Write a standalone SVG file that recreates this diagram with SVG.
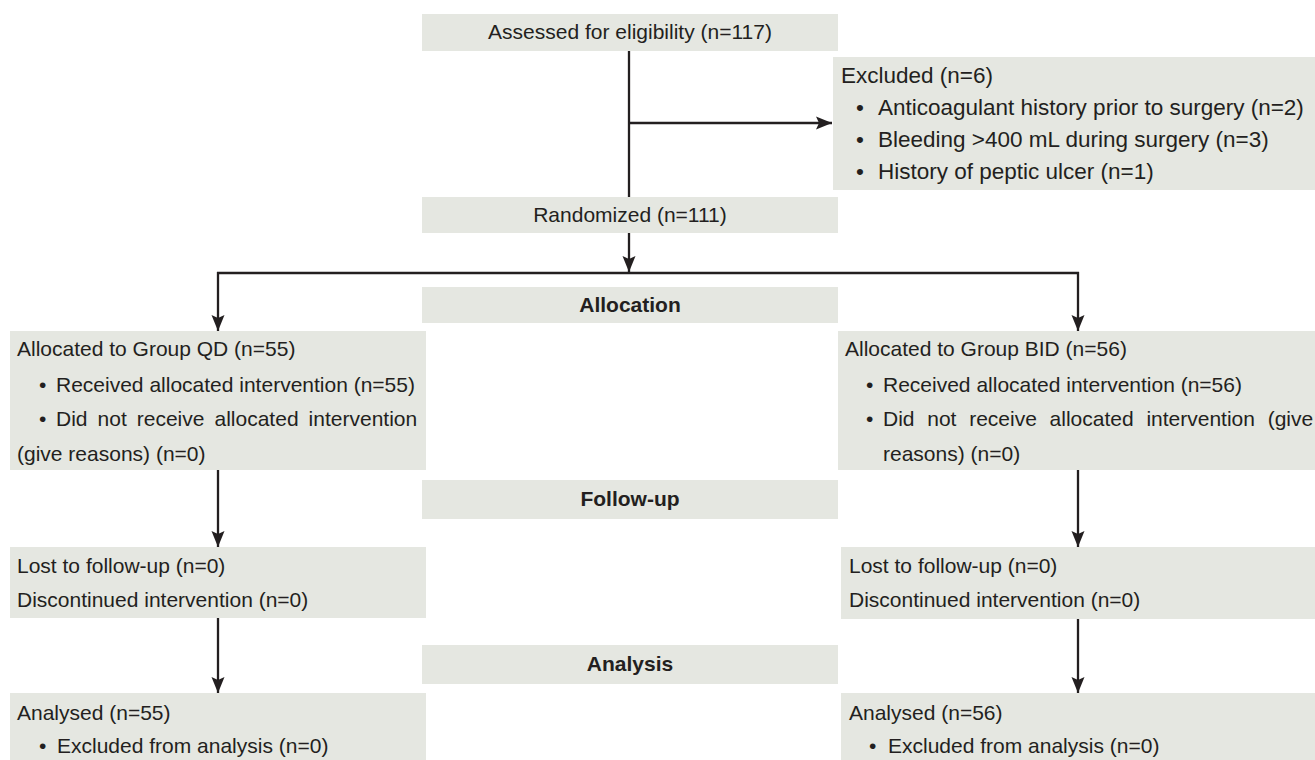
<svg xmlns="http://www.w3.org/2000/svg" width="1315" height="760" viewBox="0 0 1315 760">
<style>
.box{fill:#e5e7e1}
.t{font-family:"Liberation Sans",Arial,sans-serif;font-size:21px;fill:#231f20}
.tx{font-family:"Liberation Sans",Arial,sans-serif;font-size:22.5px;fill:#231f20}
.b{font-weight:bold;text-anchor:middle}
.c{text-anchor:middle}
.ln{stroke:#231f20;stroke-width:2.3;fill:none}
</style>
<defs>
<marker id="ah" markerUnits="userSpaceOnUse" markerWidth="18" markerHeight="14" refX="16" refY="7" orient="auto">
<path d="M0,0.5 L16,7 L0,13.5 L3,7 z" fill="#231f20"/>
</marker>
</defs>
<rect width="1315" height="760" fill="#ffffff"/>
<g id="connectors">
<path class="ln" d="M629,51 V197"/>
<path class="ln" d="M629,123 H832" marker-end="url(#ah)"/>
<path class="ln" d="M629,233 V272" marker-end="url(#ah)"/>
<path class="ln" d="M217,273 H1079"/>
<path class="ln" d="M218,272 V331" marker-end="url(#ah)"/>
<path class="ln" d="M1078,272 V331" marker-end="url(#ah)"/>
<path class="ln" d="M218,470 V547" marker-end="url(#ah)"/>
<path class="ln" d="M1078,470 V547" marker-end="url(#ah)"/>
<path class="ln" d="M218,618 V693" marker-end="url(#ah)"/>
<path class="ln" d="M1078,619 V693" marker-end="url(#ah)"/>
</g>
<g id="assessed">
<rect class="box" x="422" y="14" width="416" height="37"/>
<text class="t c" x="630" y="39">Assessed for eligibility (n=117)</text>
</g>
<g id="excluded">
<rect class="box" x="833" y="57" width="482" height="133"/>
<text class="tx" x="841" y="83">Excluded (n=6)</text>
<text class="tx" x="856" y="115">•</text>
<text class="tx" x="878" y="115">Anticoagulant history prior to surgery (n=2)</text>
<text class="tx" x="856" y="147">•</text>
<text class="tx" x="878" y="147">Bleeding &gt;400 mL during surgery (n=3)</text>
<text class="tx" x="856" y="179">•</text>
<text class="tx" x="878" y="179">History of peptic ulcer (n=1)</text>
</g>
<g id="randomized">
<rect class="box" x="422" y="197" width="416" height="36"/>
<text class="t c" x="630" y="222">Randomized (n=111)</text>
</g>
<g id="allocation">
<rect class="box" x="422" y="287" width="416" height="36"/>
<text class="t b" x="630" y="312">Allocation</text>
</g>
<g id="alloc-qd">
<rect class="box" x="10" y="331" width="416" height="139"/>
<text class="t" x="17" y="356">Allocated to Group QD (n=55)</text>
<text class="t" x="39" y="392">•</text>
<text class="t" x="56" y="392">Received allocated intervention (n=55)</text>
<text class="t" x="39" y="426">•</text>
<text class="t" x="56" y="426" word-spacing="4.2">Did not receive allocated intervention</text>
<text class="t" x="17" y="461">(give reasons) (n=0)</text>
</g>
<g id="alloc-bid">
<rect class="box" x="838" y="331" width="477" height="139"/>
<text class="t" x="845" y="356">Allocated to Group BID (n=56)</text>
<text class="t" x="866" y="392">•</text>
<text class="t" x="883" y="392">Received allocated intervention (n=56)</text>
<text class="t" x="866" y="426">•</text>
<text class="t" x="883" y="426" word-spacing="6.9">Did not receive allocated intervention (give</text>
<text class="t" x="883" y="461">reasons) (n=0)</text>
</g>
<g id="followup">
<rect class="box" x="422" y="480" width="416" height="39"/>
<text class="t b" x="630" y="506">Follow-up</text>
</g>
<g id="lost-qd">
<rect class="box" x="10" y="547" width="416" height="71"/>
<text class="t" x="17" y="573">Lost to follow-up (n=0)</text>
<text class="t" x="17" y="607">Discontinued intervention (n=0)</text>
</g>
<g id="lost-bid">
<rect class="box" x="841" y="547" width="474" height="72"/>
<text class="t" x="849" y="573">Lost to follow-up (n=0)</text>
<text class="t" x="849" y="607">Discontinued intervention (n=0)</text>
</g>
<g id="analysis">
<rect class="box" x="422" y="645" width="416" height="39"/>
<text class="t b" x="630" y="671">Analysis</text>
</g>
<g id="analysed-qd">
<rect class="box" x="10" y="693" width="416" height="67"/>
<text class="t" x="17" y="720">Analysed (n=55)</text>
<text class="t" x="39" y="753">•</text>
<text class="t" x="57" y="753">Excluded from analysis (n=0)</text>
</g>
<g id="analysed-bid">
<rect class="box" x="841" y="693" width="474" height="67"/>
<text class="t" x="849" y="720">Analysed (n=56)</text>
<text class="t" x="869" y="753">•</text>
<text class="t" x="888" y="753">Excluded from analysis (n=0)</text>
</g>
</svg>
